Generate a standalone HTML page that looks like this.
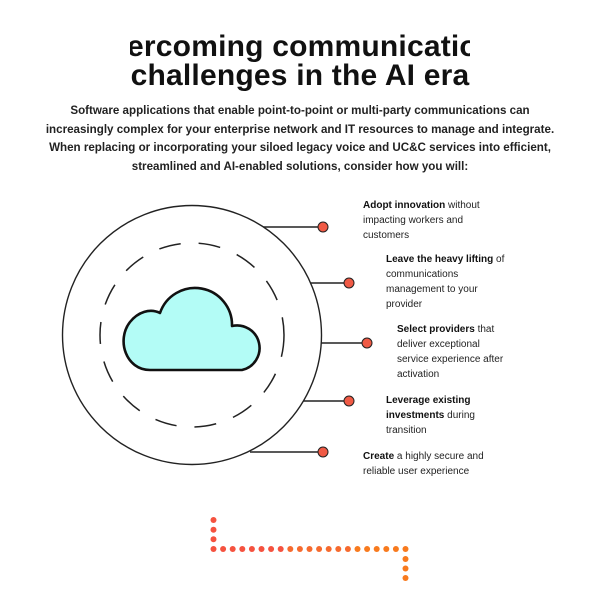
<!DOCTYPE html>
<html><head><meta charset="utf-8"><style>
body{margin:0;width:600px;height:600px;background:#fff;font-family:"Liberation Sans",sans-serif;color:#111;position:relative;overflow:hidden}
.tc{position:absolute;top:32px;left:130px;width:340px;height:70px;overflow:hidden}
h1{position:absolute;top:0;left:-130px;width:600px;margin:0;text-align:center;font-size:30px;line-height:29px;font-weight:bold;letter-spacing:0.2px}
.pc{position:absolute;top:102px;left:40px;width:515px;height:80px;overflow:hidden}
.p{position:absolute;top:0;left:-60px;width:640px;text-align:center;font-size:11.6px;line-height:18.7px;font-weight:bold;color:#222}
.l{position:absolute;font-size:10px;line-height:15px;color:#222;white-space:nowrap}
.l b{color:#111}
</style></head><body>
<div class="tc"><h1>Overcoming communications<br>challenges in the AI era</h1></div>
<div class="pc"><div class="p">Software applications that enable point-to-point or multi-party communications can<br>increasingly complex for your enterprise network and IT resources to manage and integrate.<br>When replacing or incorporating your siloed legacy voice and UC&amp;C services into efficient,<br>streamlined and AI-enabled solutions, consider how you will:</div></div>
<svg width="600" height="600" style="position:absolute;left:0;top:0">
<g stroke="#222" stroke-width="1.4" fill="none">
<line x1="262" y1="227" x2="323" y2="227"/>
<line x1="310" y1="283" x2="349" y2="283"/>
<line x1="321" y1="343" x2="367" y2="343"/>
<line x1="302" y1="401" x2="349" y2="401"/>
<line x1="250" y1="452" x2="323" y2="452"/>
<circle cx="192" cy="335" r="129.5" fill="#fff"/>
<circle cx="192" cy="335" r="92" stroke-width="1.5" stroke-dasharray="22 18"/>
</g>
<path d="M150 370 H242 A22 22 0 0 0 232 326 A37 37 0 0 0 160 313 C150 308 138 312 130 322 C116 340 126 370 150 370 Z" fill="#b3fcf6" stroke="#111" stroke-width="2.6" stroke-linejoin="round"/>
<g fill="#f05a45" stroke="#222" stroke-width="1">
<circle cx="323" cy="227" r="5"/><circle cx="349" cy="283" r="5"/><circle cx="367" cy="343" r="5"/><circle cx="349" cy="401" r="5"/><circle cx="323" cy="452" r="5"/>
</g>
</svg>
<div class="l" style="left:363px;top:198px"><b>Adopt innovation</b> without<br>impacting workers and<br>customers</div>
<div class="l" style="left:386px;top:252px"><b>Leave the heavy lifting</b> of<br>communications<br>management to your<br>provider</div>
<div class="l" style="left:397px;top:322px"><b>Select providers</b> that<br>deliver exceptional<br>service experience after<br>activation</div>
<div class="l" style="left:386px;top:393px"><b>Leverage existing<br>investments</b> during<br>transition</div>
<div class="l" style="left:363px;top:449px"><b>Create</b> a highly secure and<br>reliable user experience</div>
<svg width="600" height="600" style="position:absolute;left:0;top:0">
<g fill="#f5523f">
<circle cx="213.5" cy="520" r="3"/><circle cx="213.5" cy="529.7" r="3"/><circle cx="213.5" cy="539.3" r="3"/><circle cx="213.5" cy="549" r="3"/>
<circle cx="223.1" cy="549" r="3"/><circle cx="232.7" cy="549" r="3"/><circle cx="242.3" cy="549" r="3"/><circle cx="251.9" cy="549" r="3"/><circle cx="261.5" cy="549" r="3"/><circle cx="271.1" cy="549" r="3"/><circle cx="280.7" cy="549" r="3"/>
</g>
<g fill="#f66a2e">
<circle cx="290.3" cy="549" r="3"/><circle cx="299.9" cy="549" r="3"/><circle cx="309.5" cy="549" r="3"/><circle cx="319.1" cy="549" r="3"/><circle cx="328.7" cy="549" r="3"/><circle cx="338.3" cy="549" r="3"/><circle cx="347.9" cy="549" r="3"/>
</g>
<g fill="#f87a1e">
<circle cx="357.5" cy="549" r="3"/><circle cx="367.1" cy="549" r="3"/><circle cx="376.7" cy="549" r="3"/><circle cx="386.3" cy="549" r="3"/><circle cx="395.9" cy="549" r="3"/><circle cx="405.5" cy="549" r="3"/>
<circle cx="405.5" cy="559" r="3"/><circle cx="405.5" cy="568.5" r="3"/><circle cx="405.5" cy="578" r="3"/>
</g>
</svg>
</body></html>
